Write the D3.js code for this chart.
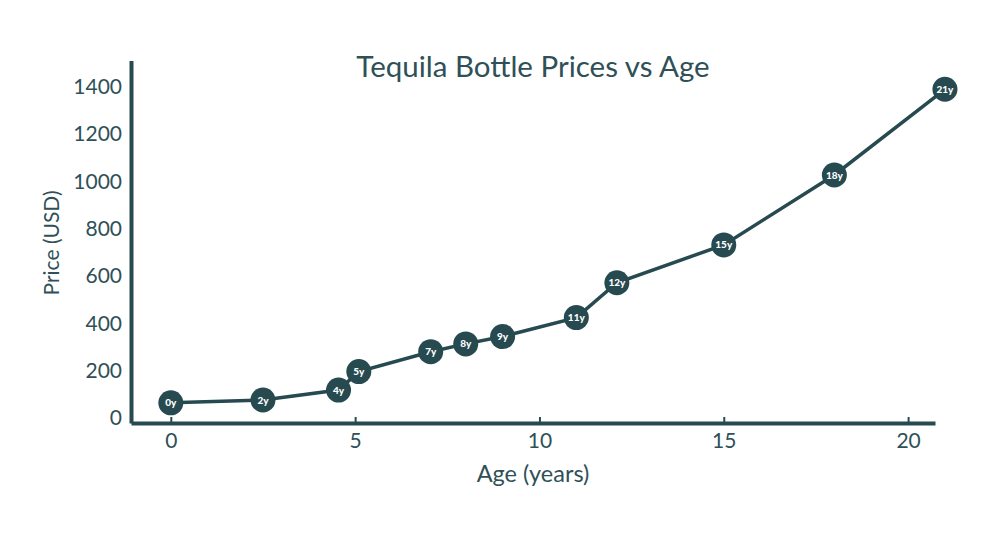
<!DOCTYPE html>
<html><head><meta charset="utf-8">
<script src="https://cdn.jsdelivr.net/npm/d3@7"></script>
<style>body{margin:0;background:#fff}svg{display:block}</style>
</head><body>
<svg id="c" width="1000" height="542"></svg>
<script>
const ages = [0, 2.5, 4.55, 5.1, 7.05, 8, 9, 11, 12.1, 15, 18, 21];
const prices = [65, 77, 119, 197, 281, 314, 345, 425, 572, 732, 1027, 1389];
const pointLabels = ["0y","2y","4y","5y","7y","8y","9y","11y","12y","15y","18y","21y"];
const xTicks = [0, 5, 10, 15, 20];
const yTicks = [0, 200, 400, 600, 800, 1000, 1200, 1400];
const title = "Tequila Bottle Prices vs Age";
const xTitle = "Age (years)";
const yTitle = "Price (USD)";

const dark = "#264a50", textC = "#2f5057";
const font = "Lato, 'Open Sans', sans-serif";
const svg = d3.select("#c");
const x = d3.scaleLinear().domain([-1.08, 20.73]).range([131, 935]);
const y = d3.scaleLinear().domain([-20, 1510]).range([423, 60.6]);

// title
svg.append("text").attr("x", 533).attr("y", 77).attr("text-anchor","middle")
  .attr("font-family", font).attr("font-size", 29.5).attr("fill", textC).text(title);

// x axis
const gx = svg.append("g").attr("transform", `translate(0,${y(-20)})`)
  .call(d3.axisBottom(x).tickValues(xTicks).tickFormat(d3.format("d")).tickSizeInner(-6).tickSizeOuter(0).tickPadding(10));
gx.select(".domain").attr("stroke", dark).attr("stroke-width", 4);
gx.selectAll(".tick line").attr("stroke", dark).attr("stroke-width", 2);
gx.selectAll(".tick text").attr("font-family", font).attr("font-size", 21).attr("fill", textC);

// y axis
const gy = svg.append("g").attr("transform", `translate(${x(-1.08)},0)`)
  .call(d3.axisLeft(y).tickValues(yTicks).tickFormat(d3.format("d")).tickSize(0).tickPadding(9));
gy.select(".domain").attr("stroke", dark).attr("stroke-width", 4);
gy.selectAll(".tick text").attr("font-family", font).attr("font-size", 21).attr("fill", textC);

// axis titles
svg.append("text").attr("x", 533).attr("y", 482).attr("text-anchor","middle")
  .attr("font-family", font).attr("font-size", 23.5).attr("fill", textC).text(xTitle);
svg.append("text").attr("transform","translate(59,243) rotate(-90)").attr("text-anchor","middle")
  .attr("font-family", font).attr("font-size", 21).attr("fill", textC).text(yTitle);

const data = ages.map((a,i)=>({a, p: prices[i], l: pointLabels[i]}));
svg.append("path").datum(data)
  .attr("d", d3.line().x(d=>x(d.a)).y(d=>y(d.p)))
  .attr("fill","none").attr("stroke", dark).attr("stroke-width", 3.5);

const pts = svg.append("g").selectAll("g").data(data).join("g")
  .attr("transform", d=>`translate(${x(d.a)},${y(d.p)})`);
pts.append("circle").attr("r", 12.5).attr("fill", dark);
pts.append("text").attr("text-anchor","middle").attr("dy","0.35em")
  .attr("font-family", font).attr("font-weight", "900").attr("font-size", 10)
  .attr("fill", "#fff").text(d=>d.l);
</script>
</body></html>
